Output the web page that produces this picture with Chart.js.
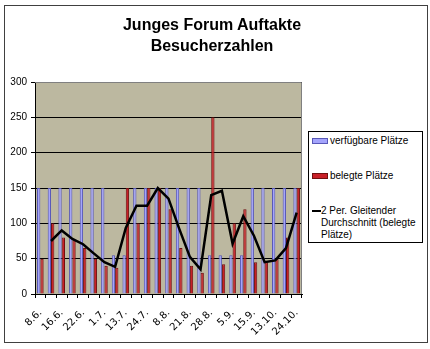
<!DOCTYPE html>
<html>
<head>
<meta charset="utf-8">
<script src="https://cdn.jsdelivr.net/npm/chart.js@4"></script>
<style>
    body { margin: 0; background: #fff; }
    #wrap { position: relative; width: 430px; height: 349px; font-family: "Liberation Sans", Arial, sans-serif; }
    #frame { position: absolute; left: 4px; top: 5px; width: 422px; height: 336px; border: 1px solid #404040; pointer-events: none; }
    #title { position: absolute; left: 112px; width: 200px; top: 14px; text-align: center; font-weight: bold; font-size: 16px; line-height: 21px; color: #000; }
    #legend { position: absolute; left: 308px; top: 131px; width: 113px; height: 110px; border: 1px solid #000; background: #fff; font-size: 10px; color: #000; }
    #legend .item { position: absolute; left: 2px; width: 110px; line-height: 12px; }
    #legend .sw { position: absolute; left: 1px; }
    #legend .txt { position: absolute; left: 19px; white-space: nowrap; }
</style>
</head>
<body>
<div id="wrap">
    <canvas id="myChart" width="430" height="349"></canvas>
    <div id="title">Junges Forum Auftakte<br>Besucherzahlen</div>
    <div id="legend"></div>
    <div id="frame"></div>
</div>
<script>
// event dates, only every second one is printed on the axis
const categories = ['8.6.', '', '16.6.', '', '22.6.', '', '1.7.', '', '13.7.', '', '24.7.', '', '8.8.',
    '', '21.8.', '', '28.8.', '', '5.9.', '', '15.9.', '', '13.10.', '', '24.10.'];

const verfuegbar = [150, 150, 150, 150, 150, 150, 150, 55, 55, 150, 150, 150, 150,
    150, 150, 150, 55, 55, 55, 55, 150, 150, 150, 150, 150];

const belegt = [50, 100, 80, 76, 65, 50, 40, 37, 150, 100, 150, 150, 120,
    65, 40, 30, 250, 42, 100, 120, 45, 45, 50, 80, 150];

// 2 period moving average of belegt
const gleitend = [null, 75, 90, 78, 70.5, 57.5, 45, 38.5, 93.5, 125, 125, 150, 135,
    92.5, 52.5, 35, 140, 146, 71, 110, 82.5, 45, 47.5, 65, 115];

const yTicks = [0, 50, 100, 150, 200, 250, 300];

const plotBg = {
    id: 'plotBg',
    beforeDraw(chart) {
        const a = chart.chartArea;
        const c = chart.ctx;
        c.save();
        c.fillStyle = '#bcb8a0';
        c.fillRect(a.left, a.top, a.right - a.left, a.bottom - a.top);
        c.restore();
    },
    afterDraw(chart) {
        const a = chart.chartArea;
        const c = chart.ctx;
        c.save();
        c.strokeStyle = '#808080';
        c.lineWidth = 1;
        c.beginPath();
        c.moveTo(a.left, a.top + 0.5);
        c.lineTo(a.right - 0.5, a.top + 0.5);
        c.lineTo(a.right - 0.5, a.bottom);
        c.stroke();
        c.restore();
    }
};

const ctx = document.getElementById('myChart');

const chart = new Chart(ctx, {
    type: 'bar',
    data: {
        labels  : categories,
        datasets: [
            {
                label          : 'verfügbare Plätze',
                data           : verfuegbar,
                backgroundColor: '#a4a4fc',
                borderColor    : '#5858b8',
                borderWidth    : 1,
                order          : 1
            }
            , {
                label          : 'belegte Plätze',
                data           : belegt,
                backgroundColor: '#c82028',
                borderColor    : '#701010',
                borderWidth    : 1,
                order          : 1
            }
            , {
                type       : 'line',
                label      : '2 Per. Gleitender Durchschnitt (belegte Plätze)',
                data       : gleitend,
                borderColor: '#000',
                borderWidth: 2.5,
                pointRadius: 0,
                fill       : false,
                tension    : 0,
                order      : 0
            }
        ]
    },
    options: {
        responsive: false,
        devicePixelRatio: 1,
        animation: false,
        categoryPercentage: 0.62,
        barPercentage: 1,
        layout: { padding: { left: 0, top: 82, right: 128, bottom: 0 } },
        plugins: {
            legend : { display: false },
            title  : { display: false },
            tooltip: { enabled: false }
        },
        scales: {
            x: {
                offset: true,
                grid  : { offset: true, drawOnChartArea: false, drawTicks: true, tickLength: 4, color: '#000' },
                border: { display: true, color: '#000' },
                ticks : {
                    autoSkip: false, minRotation: 45, maxRotation: 45, padding: 9,
                    color: '#000', font: { family: 'DejaVu Sans', size: 10 }
                },
                afterFit(scale) { scale.height = 55; }
            },
            y: {
                min: 0, max: 300,
                grid  : { color: '#000', lineWidth: 1, drawTicks: true, tickLength: 4 },
                border: { display: true, color: '#000' },
                afterBuildTicks(scale) { scale.ticks = yTicks.map(v => ({ value: v })); },
                ticks : { padding: 4, color: '#000', font: { family: 'Liberation Sans', size: 10 } },
                afterFit(scale) { scale.width = 35; }
            }
        }
    },
    plugins: [plotBg]
});

// legend box at the right, built from the datasets
const legend = document.getElementById('legend');
const rows = [3, 38, 73];
chart.data.datasets.forEach((ds, i) => {
    const item = document.createElement('div');
    item.className = 'item';
    item.style.top = rows[i] + 'px';
    const sw = document.createElement('div');
    sw.className = 'sw';
    if (ds.type === 'line') {
        sw.style.cssText += 'top:5px;width:9px;height:0;border-top:2px solid #000;';
    } else {
        sw.style.cssText += 'top:3px;width:14px;height:4px;background:' + ds.backgroundColor +
            ';border:1px solid ' + ds.borderColor + ';';
    }
    const txt = document.createElement('div');
    txt.className = 'txt';
    if (ds.type === 'line') {
        txt.style.left = '10px';
        txt.innerHTML = '2 Per. Gleitender<br>Durchschnitt (belegte<br>Plätze)';
    } else {
        txt.textContent = ds.label;
    }
    item.appendChild(sw);
    item.appendChild(txt);
    legend.appendChild(item);
});
</script>
</body>
</html>
